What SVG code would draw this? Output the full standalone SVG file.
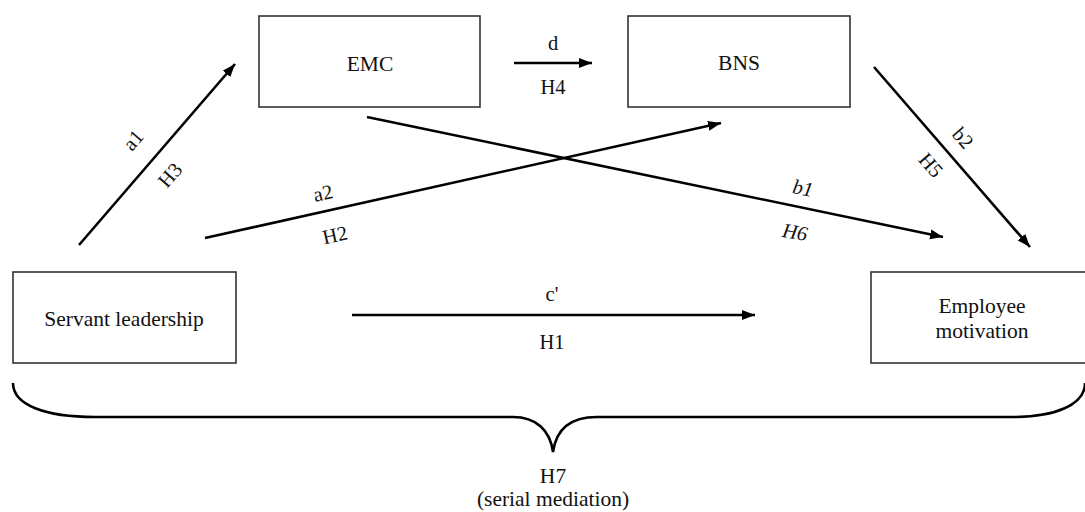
<svg xmlns="http://www.w3.org/2000/svg" width="1085" height="512" viewBox="0 0 1085 512">
<style>
.box{fill:#fff;stroke:#333;stroke-width:1.6}
.t{font-size:21.5px;fill:#111;text-anchor:middle}
.lbl{font-size:20.5px;fill:#111;text-anchor:middle}
.it{font-style:italic}
.c{stroke:#000;stroke-width:2.6;fill:none}
</style>
<defs>
<marker id="ah" markerUnits="userSpaceOnUse" markerWidth="14" markerHeight="11" refX="13" refY="5" orient="auto">
<path d="M0,0 L13,5 L0,10 z" fill="#000"/>
</marker>
</defs>
<rect width="1085" height="512" fill="#fff"/>
<g font-family="Liberation Serif, Times New Roman, DejaVu Serif, serif">
<g id="node-emc"><rect class="box" x="259" y="16" width="221" height="91"/><text class="t" x="370" y="71">EMC</text></g>
<g id="node-bns"><rect class="box" x="628" y="16" width="222" height="91"/><text class="t" x="739" y="70">BNS</text></g>
<g id="node-sl"><rect class="box" x="13" y="272" width="223" height="91"/><text class="t" x="124" y="326">Servant leadership</text></g>
<g id="node-em"><rect class="box" x="871" y="272" width="222" height="91"/><text class="t" x="982" y="313">Employee</text><text class="t" x="982" y="338">motivation</text></g>
<g id="connectors">
<line class="c" x1="79" y1="245" x2="235" y2="64" marker-end="url(#ah)"/>
<line class="c" x1="205" y1="238" x2="721" y2="123" marker-end="url(#ah)"/>
<line class="c" x1="367" y1="117" x2="943" y2="237" marker-end="url(#ah)"/>
<line class="c" x1="514" y1="63" x2="592" y2="63" marker-end="url(#ah)"/>
<line class="c" x1="874" y1="67" x2="1030" y2="247" marker-end="url(#ah)"/>
<line class="c" x1="352" y1="315" x2="755" y2="315" marker-end="url(#ah)"/>
<path class="c" d="M13,383 C13,405 45,417 95,417 L513,417 C536,417 550,430 553,452 C556,430 570,417 597,417 L1012,417 C1055,417 1085,405 1085,383"/>
</g>
<g id="labels">
<text class="lbl" transform="translate(133,140) rotate(-49)" y="7">a1</text>
<text class="lbl" transform="translate(170,175) rotate(-49)" y="7">H3</text>
<text class="lbl" transform="translate(323,193) rotate(-12.6)" y="7">a2</text>
<text class="lbl" transform="translate(335,235) rotate(-12.6)" y="7">H2</text>
<text class="lbl it" transform="translate(803,188) rotate(10)" y="7">b1</text>
<text class="lbl it" transform="translate(795,232) rotate(10)" y="7">H6</text>
<text class="lbl" transform="translate(963,138) rotate(49)" y="7">b2</text>
<text class="lbl" transform="translate(931,165) rotate(49)" y="7">H5</text>
<text class="lbl" x="553" y="50">d</text>
<text class="lbl" x="553" y="94">H4</text>
<text class="lbl" x="552" y="301">c'</text>
<text class="lbl" x="552" y="349">H1</text>
<text class="t" x="553" y="483">H7</text>
<text class="t" x="553" y="506">(serial mediation)</text>
</g>
</g>
</svg>
